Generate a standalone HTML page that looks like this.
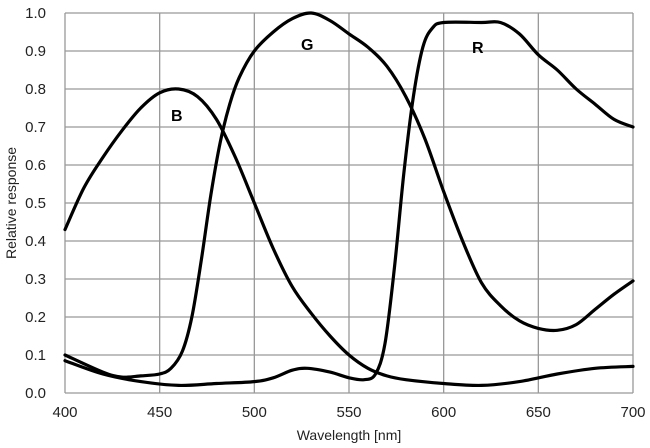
<!DOCTYPE html>
<html><head><style>body{margin:0;background:#fff}svg{display:block}</style></head><body>
<svg id="s" width="650" height="448" xmlns="http://www.w3.org/2000/svg" font-family="Liberation Sans, sans-serif">
<g id="grid" stroke="#999" stroke-width="1.3" fill="none"></g>
<g id="lbl" font-size="15" fill="#222"></g>
<text x="16" y="203" font-size="14" fill="#222" text-anchor="middle" transform="rotate(-90 16 203)">Relative response</text>
<text x="349" y="440" font-size="14" fill="#222" text-anchor="middle">Wavelength [nm]</text>
<g id="curves" stroke="#000" stroke-width="3.2" fill="none" stroke-linecap="round" stroke-linejoin="round"></g>
<g font-size="16" font-weight="bold" fill="#000">
<text x="171" y="121">B</text><text x="301" y="50">G</text><text x="472" y="53">R</text></g>
</svg>
<script>
const X=w=>65+(w-400)*568/300, Y=v=>393-v*380, NS="http://www.w3.org/2000/svg";
const g=document.getElementById('grid'), l=document.getElementById('lbl'), c=document.getElementById('curves');
function el(p,t,a,txt){const e=document.createElementNS(NS,t);for(const k in a)e.setAttribute(k,a[k]);if(txt)e.textContent=txt;p.appendChild(e);}
for(let i=0;i<=10;i++){const y=Y(i/10);el(g,'line',{x1:65,x2:633,y1:y,y2:y});el(l,'text',{x:46,y:y+5,'text-anchor':'end'},(i/10).toFixed(1));}
for(let w=400;w<=700;w+=50){const x=X(w);el(g,'line',{x1:x,x2:x,y1:13,y2:393});el(l,'text',{x:x,y:417,'text-anchor':'middle'},w);}
const B=[[400,.43],[410,.54],[420,.62],[430,.69],[440,.75],[450,.79],[460,.80],[470,.78],[480,.72],[490,.62],[500,.50],[510,.38],[520,.28],[530,.21],[540,.15],[550,.10],[560,.065],[570,.045],[580,.035],[600,.025],[620,.02],[640,.03],[660,.05],[680,.065],[700,.07]];
const G=[[400,.10],[420,.055],[430,.042],[440,.045],[450,.05],[456,.065],[462,.11],[467,.2],[472,.35],[477,.52],[482,.66],[487,.76],[492,.83],[500,.90],[510,.95],[520,.985],[530,1.0],[540,.98],[550,.945],[560,.91],[570,.86],[580,.78],[590,.67],[600,.53],[610,.40],[620,.29],[630,.23],[640,.19],[650,.17],[660,.165],[670,.18],[680,.22],[690,.26],[700,.295]];
const R=[[400,.085],[420,.05],[440,.03],[460,.02],[480,.025],[500,.03],[510,.04],[520,.06],[528,.065],[540,.055],[550,.04],[558,.035],[564,.05],[569,.13],[574,.33],[579,.58],[584,.78],[589,.91],[594,.96],[600,.975],[620,.975],[630,.975],[640,.945],[650,.89],[660,.85],[670,.80],[680,.76],[690,.72],[700,.70]];
function path(pts){const p=pts.map(([w,v])=>[X(w),Y(v)]);let d=`M${p[0][0]},${p[0][1]}`;
for(let i=0;i<p.length-1;i++){const p0=p[i-1]||p[i],p1=p[i],p2=p[i+1],p3=p[i+2]||p2;
d+=` C${p1[0]+(p2[0]-p0[0])/6},${p1[1]+(p2[1]-p0[1])/6} ${p2[0]-(p3[0]-p1[0])/6},${p2[1]-(p3[1]-p1[1])/6} ${p2[0]},${p2[1]}`;}return d;}
[B,G,R].forEach(s=>el(c,'path',{d:path(s)}));
</script>
</body></html>
